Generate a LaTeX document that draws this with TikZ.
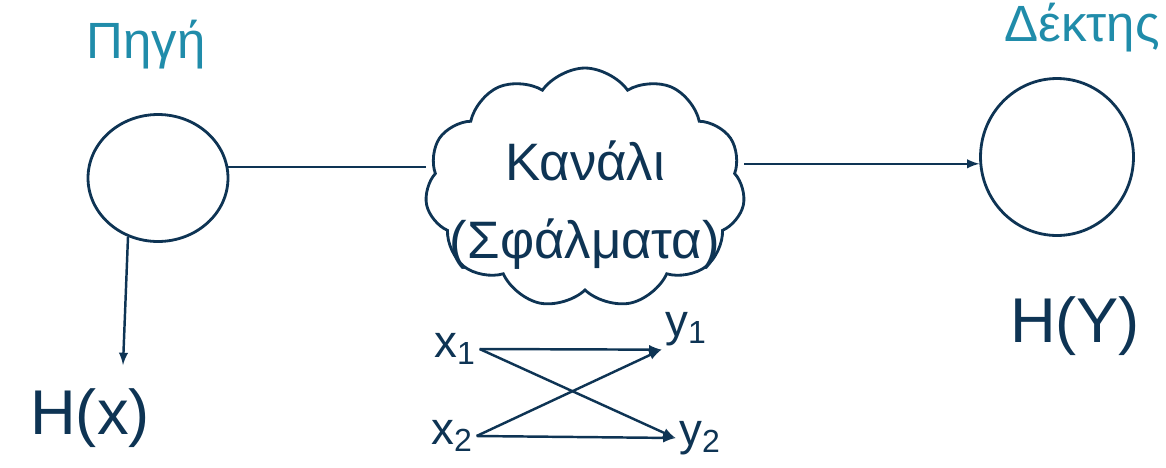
\documentclass[tikz,border=0pt]{standalone}
\usepackage{fontspec}
\setmainfont{Liberation Sans}
\usetikzlibrary{shapes.symbols,shapes.geometric}
\definecolor{ink}{RGB}{14,52,84}
\definecolor{tealink}{RGB}{32,140,170}

\begin{document}
\begin{tikzpicture}[>=latex,x=0.02cm,y=-0.02cm,
    every node/.style={text=ink},
    station/.style={draw=ink,line width=1.6pt,ellipse,inner sep=0pt},
    title/.style={text=tealink,font=\fontsize{29}{32}\selectfont},
    big/.style={font=\fontsize{36}{40}\selectfont},
    sym/.style={font=\fontsize{26}{28}\selectfont,inner sep=2pt},
    wire/.style={draw=ink,line width=1.4pt}]
  \useasboundingbox (0,0) rectangle (1166,467);
  % source and receiver
  \node[station,minimum width=2.8cm,minimum height=2.54cm] (src) at (158,178) {};
  \node[station,minimum width=3.06cm,minimum height=3.14cm] (rcv) at (1057,157) {};
  \node[title] (srclbl) at (146,45) {Πηγή};
  \node[title] (rcvlbl) at (1082,28) {Δέκτης};
  % channel
  \node[draw=ink,line width=1.6pt,cloud,cloud puffs=11,cloud puff arc=110,
        cloud ignores aspect,inner sep=0pt,
        minimum width=6.4cm,minimum height=4.8cm] (chan) at (585,188) {};
  \node[align=center,font=\fontsize{30}{44}\selectfont] (chantxt) at (585,205) {Κανάλι\\(Σφάλματα)};
  % entropies
  \node[big] (hx) at (90,418) {H(x)};
  \node[big] (hy) at (1075,326) {H(Y)};
  \coordinate (hxtop) at (123,365);
  % connectors
  \draw[wire] (src.9) -- (src.9 -| chan.west);
  \draw[wire,->] (rcv.185 -| chan.east) -- (rcv.185);
  \draw[wire,->] (src.243) -- (hxtop);
  % symbols
  \node[sym] (x1) at (455,349) {x\textsubscript{1}};
  \node[sym] (x2) at (452,436) {x\textsubscript{2}};
  \node[sym] (y1) at (686,329) {y\textsubscript{1}};
  \node[sym] (y2) at (700,438) {y\textsubscript{2}};
  \draw[wire,->] (x1.east) -- (y1.south west);
  \draw[wire,->] (x1.east) -- (y2.west);
  \draw[wire,->] (x2.east) -- (y1.south west);
  \draw[wire,->] (x2.east) -- (y2.west);
\end{tikzpicture}
\end{document}
